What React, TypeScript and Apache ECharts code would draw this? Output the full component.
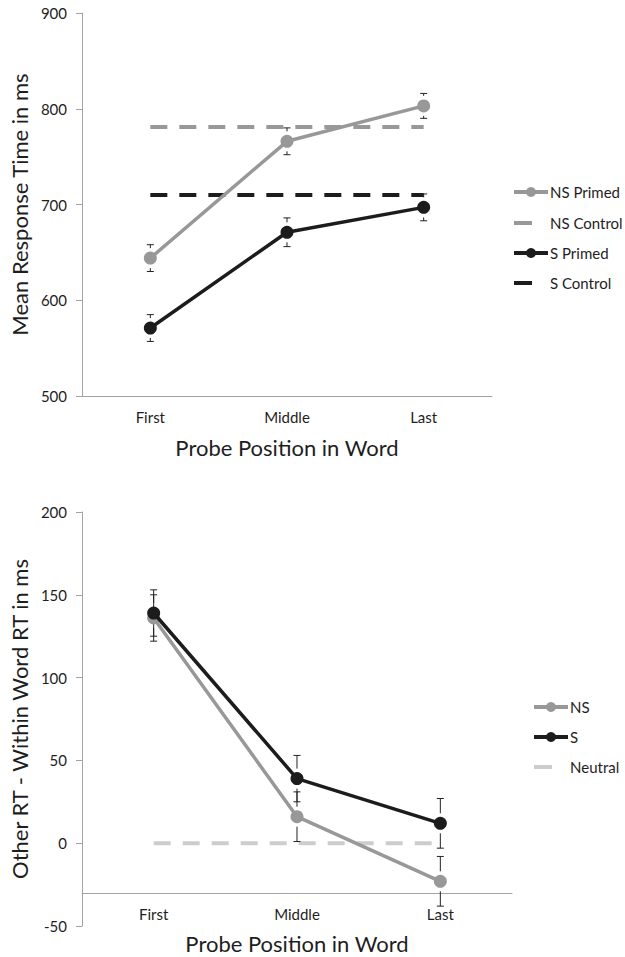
import React, { useEffect, useRef } from "react";
import * as echarts from "echarts";

// ---------- data ----------
const positions = ["First", "Middle", "Last"];

const topTicks = [500, 600, 700, 800, 900];
const nsPrimed = [644, 766, 803];
const nsPrimedErr = [14, 14, 13];
const nsControl = [781, 781, 781];
const sPrimed = [571, 671, 697];
const sPrimedErr = [14, 15, 14];
const sControl = [710, 710, 710];

const bottomTicks = [-50, 0, 50, 100, 150, 200];
const bottomAxisCross = -30;
const nsDiff = [136, 16, -23];
const nsDiffErr = [14, 15, 15];
const sDiff = [139, 39, 12];
const sDiffErr = [14, 14, 15];
const neutral = [0, 0, 0];

const topLegend = ["NS Primed", "NS Control", "S Primed", "S Control"];
const bottomLegend = ["NS", "S", "Neutral"];

// ---------- styles ----------
const FONT = "Lato";
const GRAY = "#989898";
const BLACK = "#1c1c1c";
const LIGHT = "#cdcdcd";
const AXIS = "#a3a3a3";
const TEXT = "#1e1e1e";

const errRender = (gap: number) => (params: any, api: any) => {
  const x = api.value(0);
  const m = api.value(1);
  const e = api.value(2);
  const c = api.coord([x, m]);
  const hi = api.coord([x, m + e]);
  const lo = api.coord([x, m - e]);
  const cap = 3.5;
  const st = { stroke: "#222", lineWidth: 1 };
  const ch: any[] = [];
  if (hi[1] < c[1] - gap) {
    ch.push({ type: "line", shape: { x1: c[0], y1: c[1] - gap, x2: c[0], y2: hi[1] }, style: st });
  }
  ch.push({ type: "line", shape: { x1: c[0] - cap, y1: hi[1], x2: c[0] + cap, y2: hi[1] }, style: st });
  if (lo[1] > c[1] + gap) {
    ch.push({ type: "line", shape: { x1: c[0], y1: c[1] + gap, x2: c[0], y2: lo[1] }, style: st });
  }
  ch.push({ type: "line", shape: { x1: c[0] - cap, y1: lo[1], x2: c[0] + cap, y2: lo[1] }, style: st });
  return { type: "group", children: ch };
};

const errData = (vals: number[], errs: number[]) => vals.map((v, i) => [i, v, errs[i]]);

const legendItem = (
  x: number,
  y: number,
  label: string,
  color: string,
  marker: boolean,
  iconW: number
) => {
  const children: any[] = [];
  if (marker) {
    children.push({
      type: "line",
      shape: { x1: x, y1: y, x2: x + iconW, y2: y },
      style: { stroke: color, lineWidth: 4 },
    });
    children.push({
      type: "circle",
      shape: { cx: x + iconW / 2, cy: y, r: 5 },
      style: { fill: color },
    });
  } else {
    children.push({
      type: "line",
      shape: { x1: x, y1: y, x2: x + 18, y2: y },
      style: { stroke: color, lineWidth: 4 },
    });
  }
  children.push({
    type: "text",
    x: x + iconW + 2,
    y: y,
    style: { text: label, font: `15px ${FONT}`, fill: TEXT, textVerticalAlign: "middle" },
  });
  return { type: "group", children };
};

const yAxisBase = (ticks: number[], gridIndex: number, name: string, gap: number) => ({
  type: "value",
  gridIndex,
  min: ticks[0],
  max: ticks[ticks.length - 1],
  interval: ticks[1] - ticks[0],
  splitLine: { show: false },
  axisLine: { show: true, lineStyle: { color: AXIS, width: 1 } },
  axisTick: { show: true, length: 6, lineStyle: { color: AXIS } },
  axisLabel: { color: TEXT, fontSize: 15, fontFamily: FONT, margin: 15 },
  name,
  nameLocation: "middle",
  nameGap: gap,
  nameTextStyle: { fontSize: 22, color: TEXT, fontFamily: FONT },
});

export default function App() {
  const ref = useRef<HTMLDivElement>(null);
  useEffect(() => {
    if (!ref.current) return;
    const chart = echarts.init(ref.current, null, { renderer: "svg" });
    const bottomH = 414;
    const crossOffset =
      -((bottomAxisCross - bottomTicks[0]) / (bottomTicks[bottomTicks.length - 1] - bottomTicks[0])) * bottomH;

    const lineSeries = (
      data: number[],
      color: string,
      xi: number,
      dashed: boolean,
      width: number,
      z: number
    ) => ({
      type: "line",
      xAxisIndex: xi,
      yAxisIndex: xi,
      data,
      symbol: dashed ? "none" : "circle",
      symbolSize: 13,
      itemStyle: { color },
      lineStyle: { color, width, type: dashed ? [17, 12] : "solid", cap: "butt" },
      z,
      silent: true,
    });

    const xAxisBase = (gridIndex: number, margin: number) => ({
      type: "category",
      gridIndex,
      data: positions,
      boundaryGap: true,
      axisLine: { onZero: false, lineStyle: { color: AXIS, width: 1 } },
      axisTick: { length: 4, lineStyle: { color: AXIS } },
      axisLabel: { color: TEXT, fontSize: 15, fontFamily: FONT, margin },
      name: "Probe Position in Word",
      nameLocation: "middle",
      nameGap: 40,
      nameTextStyle: { fontSize: 22, color: TEXT, fontFamily: FONT },
    });

    chart.setOption({
      animation: false,
      backgroundColor: "#fff",
      grid: [
        { left: 76, top: 13, width: 416, height: 383 },
        { left: 74, top: 512, width: 438, height: bottomH },
      ],
      xAxis: [
        xAxisBase(0, 13),
        { ...xAxisBase(1, 14), offset: crossOffset },
      ],
      yAxis: [
        yAxisBase(topTicks, 0, "Mean Response Time in ms", 46),
        yAxisBase(bottomTicks, 1, "Other RT - Within Word RT in ms", 45),
      ],
      series: [
        lineSeries(nsControl, GRAY, 0, true, 4, 2),
        lineSeries(sControl, BLACK, 0, true, 4, 2),
        {
          type: "custom",
          xAxisIndex: 0,
          yAxisIndex: 0,
          renderItem: errRender(10),
          data: errData(nsPrimed, nsPrimedErr),
          z: 3,
          silent: true,
        },
        {
          type: "custom",
          xAxisIndex: 0,
          yAxisIndex: 0,
          renderItem: errRender(10),
          data: errData(sPrimed, sPrimedErr),
          z: 3,
          silent: true,
        },
        lineSeries(nsPrimed, GRAY, 0, false, 3.5, 4),
        lineSeries(sPrimed, BLACK, 0, false, 3.5, 5),

        lineSeries(neutral, LIGHT, 1, true, 4, 2),
        {
          type: "custom",
          xAxisIndex: 1,
          yAxisIndex: 1,
          renderItem: errRender(10),
          data: errData(nsDiff, nsDiffErr),
          z: 3,
          silent: true,
        },
        {
          type: "custom",
          xAxisIndex: 1,
          yAxisIndex: 1,
          renderItem: errRender(10),
          data: errData(sDiff, sDiffErr),
          z: 3,
          silent: true,
        },
        lineSeries(nsDiff, GRAY, 1, false, 3.5, 4),
        lineSeries(sDiff, BLACK, 1, false, 3.5, 5),
      ],
      graphic: [
        legendItem(514, 192, topLegend[0], GRAY, true, 34),
        legendItem(514, 223, topLegend[1], GRAY, false, 34),
        legendItem(514, 253, topLegend[2], BLACK, true, 34),
        legendItem(514, 283, topLegend[3], BLACK, false, 34),
        legendItem(534, 707, bottomLegend[0], GRAY, true, 34),
        legendItem(534, 737, bottomLegend[1], BLACK, true, 34),
        legendItem(534, 767, bottomLegend[2], LIGHT, false, 34),
      ],
    });
    return () => chart.dispose();
  }, []);
  return (
    <div
      ref={ref}
      style={{ position: "fixed", left: 0, top: 0, width: 625, height: 957, background: "#fff" }}
    />
  );
}
